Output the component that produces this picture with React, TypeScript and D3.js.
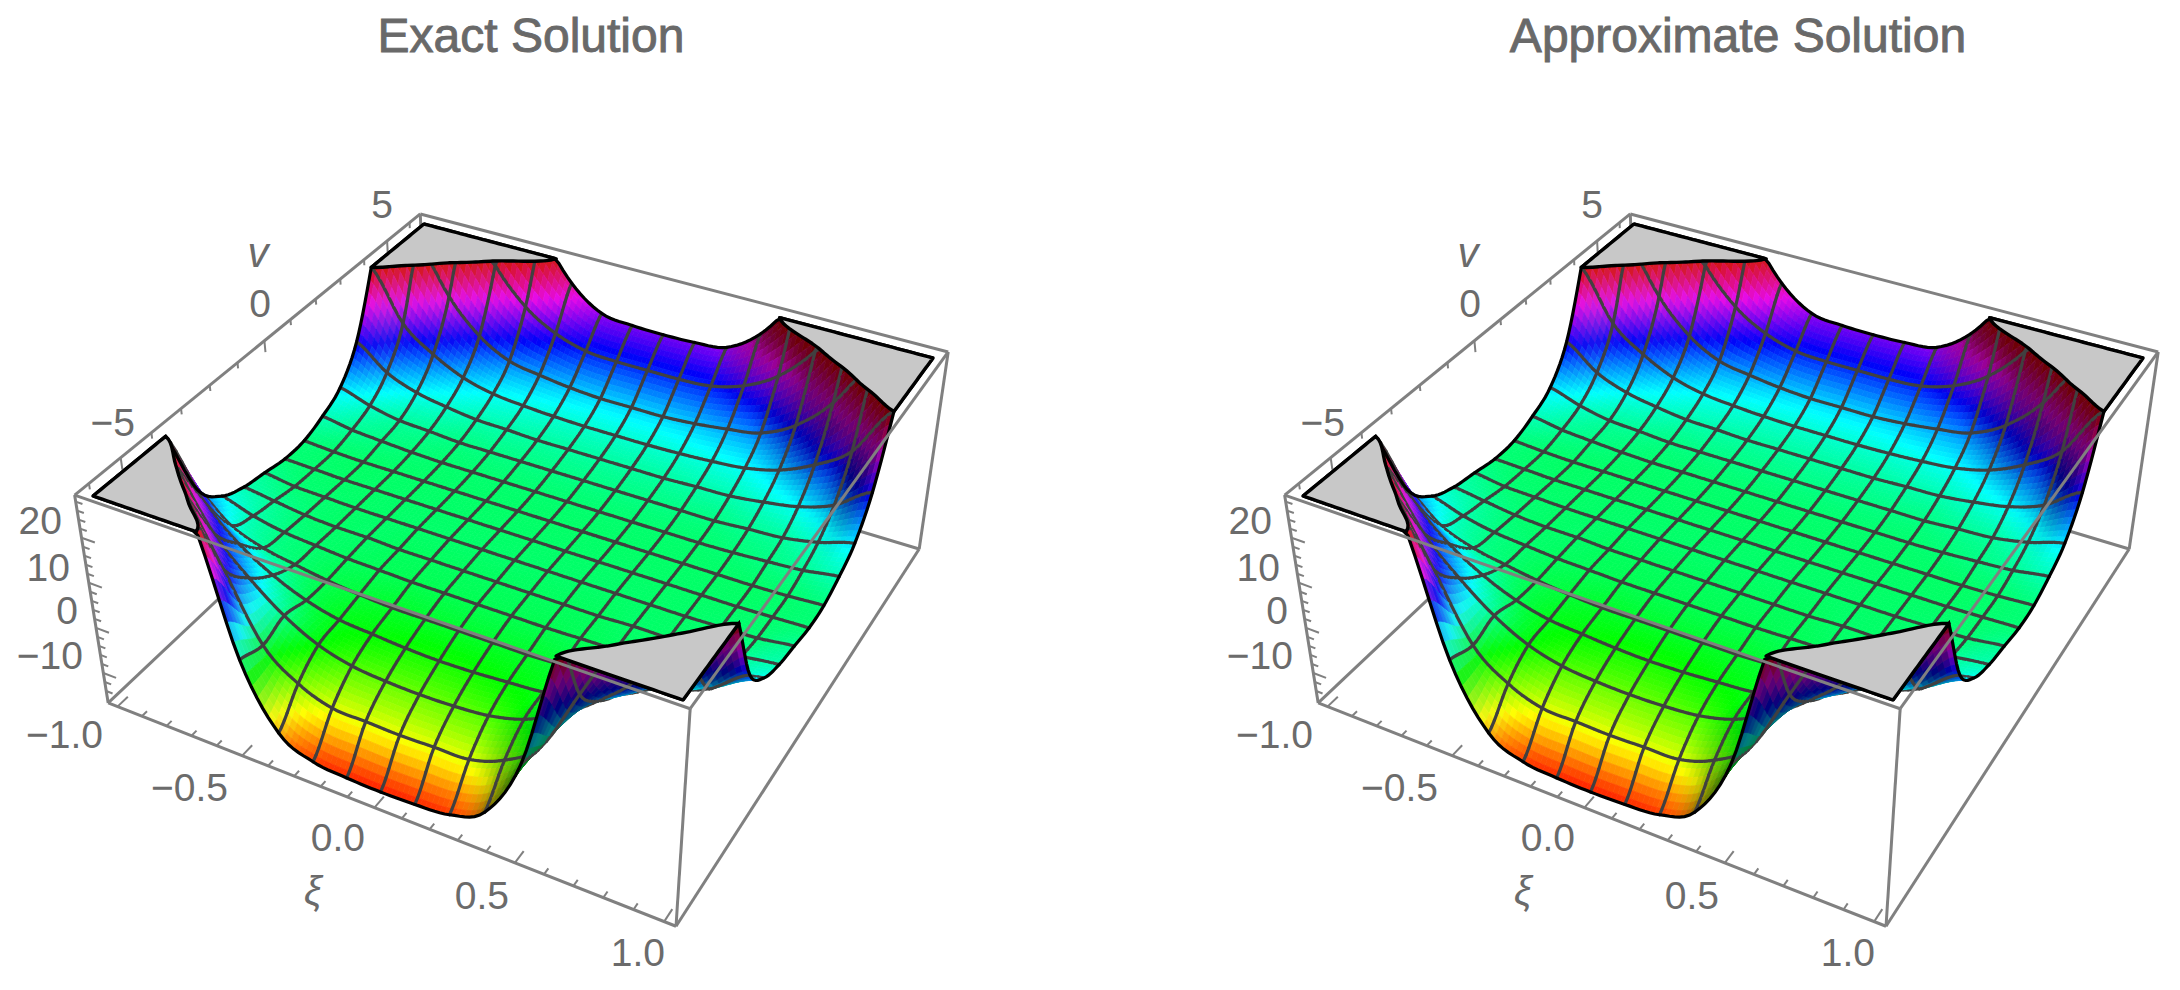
import { useEffect, useRef } from "react";
import * as d3 from "d3";

// v(xi, nu): one row per mesh line of nu (front to back),
// one value per mesh line of xi (left to right). Values past 28.6 sit above the
// plot range and only steer where the clipping line runs.
const zRows: number[][] = [
  [75.2, 60.6, 45.9, 31.3, 2.8, -10.5, -14.0, -14.7, -14.9, -14.7, -14.0, -10.5, 2.8, 31.3, 45.9, 60.6, 75.2],
  [59.7, 45.0, 30.4, 15.3, 1.1, -4.7, -7.4, -7.6, -7.8, -7.6, -7.4, -4.7, 1.1, 15.3, 30.4, 45.0, 59.7],
  [44.1, 29.5, 16.2, 8.6, 2.8, -1.1, -3.1, -3.8, -4.0, -3.8, -3.1, -1.1, 2.8, 8.6, 16.2, 29.5, 44.1],
  [28.6, 16.2, 9.1, 4.6, 1.5, -0.3, -0.9, -1.4, -1.6, -1.4, -0.9, -0.3, 1.5, 4.6, 9.1, 16.2, 28.6],
  [12.2, 6.4, 3.7, 2.4, 1.3, 0.6, 0.2, 0.2, 0.2, 0.2, 0.2, 0.6, 1.3, 2.4, 3.7, 6.4, 12.2],
  [6.4, 4.2, 2.8, 2.2, 1.7, 1.5, 1.3, 1.3, 1.3, 1.3, 1.3, 1.5, 1.7, 2.2, 2.8, 4.2, 6.4],
  [4.2, 3.3, 2.4, 2.0, 2.0, 1.7, 1.7, 1.7, 1.7, 1.7, 1.7, 1.7, 2.0, 2.0, 2.4, 3.3, 4.2],
  [3.3, 2.4, 2.2, 2.0, 2.0, 2.0, 2.0, 2.0, 2.0, 2.0, 2.0, 2.0, 2.0, 2.0, 2.2, 2.4, 3.3],
  [2.4, 2.2, 2.0, 2.0, 2.0, 2.0, 2.0, 2.0, 2.0, 2.0, 2.0, 2.0, 2.0, 2.0, 2.0, 2.2, 2.4],
  [2.6, 2.2, 2.0, 2.0, 2.0, 2.0, 2.0, 2.0, 2.0, 2.0, 2.0, 2.0, 2.0, 2.0, 2.0, 2.2, 2.6],
  [4.4, 3.3, 2.8, 2.4, 2.2, 2.2, 2.2, 2.2, 2.2, 2.2, 2.2, 2.2, 2.2, 2.4, 2.8, 3.3, 4.4],
  [7.3, 5.1, 3.7, 3.3, 2.8, 2.8, 2.8, 2.8, 2.8, 2.8, 2.8, 2.8, 2.8, 3.3, 3.7, 5.1, 7.3],
  [14.4, 9.1, 6.4, 5.1, 4.2, 4.0, 3.7, 3.7, 3.7, 3.7, 3.7, 4.0, 4.2, 5.1, 6.4, 9.1, 14.4],
  [28.6, 17.1, 11.7, 8.2, 6.4, 5.7, 5.3, 5.1, 5.1, 5.1, 5.3, 5.7, 6.4, 8.2, 11.7, 17.1, 28.6],
  [46.4, 34.4, 21.9, 14.4, 10.4, 9.1, 8.2, 7.7, 7.7, 7.7, 8.2, 9.1, 10.4, 14.4, 21.9, 34.4, 46.4],
  [64.1, 52.1, 40.1, 27.7, 19.7, 15.3, 13.1, 12.6, 12.6, 12.6, 13.1, 15.3, 19.7, 27.7, 40.1, 52.1, 64.1],
  [81.9, 69.9, 57.9, 45.9, 33.9, 23.7, 18.4, 17.5, 17.3, 17.5, 18.4, 23.7, 33.9, 45.9, 57.9, 69.9, 81.9],
];

const titles = ["Exact Solution", "Approximate Solution"];
const xiMajor = [-1, -0.5, 0, 0.5, 1];
const xiMinor = d3.range(-10, 11).map((d) => d / 10);
const nuMajor = [-5, 0, 5];
const nuMinor = d3.range(-6, 7);
const zMajor = [-10, 0, 10, 20];
const zMinor = d3.range(-14, 30, 2);
const xiLabels = ["−1.0", "−0.5", "0.0", "0.5", "1.0"];
const nuLabels = ["−5", "0", "5"];
const zLabels = ["−10", "0", "10", "20"];

// layout, in page pixels for the left plot
const capCorners = [[93, 496], [683, 700], [933, 358], [424, 224]];
const floorCorners = [[124, 696], [670, 909], [906, 548], [431, 405]];
const xiLabelAt = [[103, 748], [228, 801], [365, 851], [509, 909], [665, 966]];
const nuLabelAt = [[135, 436], [271, 317], [393, 218]];
const zLabelAt = [[83, 669], [78, 624], [70, 581], [62, 534]];
const plotShift = [0, 1210];
const titleX = [531, 1738];

const SUB = 7;
const PAD = 0.0192;
const GREY = "#808080";
const TEXT = "#6b6b6b";
const FONT = "'Liberation Sans', Arial, sans-serif";

const uScale = d3.scaleLinear([-1, 1], [0, 1]);
const wScale = d3.scaleLinear([-6.2, 6.25], [0, 1]);
const tScale = d3.scaleLinear([-15.8, 28.6], [0, 1]);

// unit square to quad (corners in order u0w0, u1w0, u1w1, u0w1)
function quadMap(q: number[][]) {
  const [[x0, y0], [x1, y1], [x2, y2], [x3, y3]] = q;
  const dx1 = x1 - x2, dy1 = y1 - y2, dx2 = x3 - x2, dy2 = y3 - y2;
  const sx = x0 - x1 + x2 - x3, sy = y0 - y1 + y2 - y3;
  const det = dx1 * dy2 - dx2 * dy1;
  const g = (sx * dy2 - dx2 * sy) / det;
  const h = (dx1 * sy - sx * dy1) / det;
  return (u: number, w: number) => {
    const d = g * u + h * w + 1;
    return [
      (x0 + (x1 - x0 + g * x1) * u + (x3 - x0 + h * x3) * w) / d,
      (y0 + (y1 - y0 + g * y1) * u + (y3 - y0 + h * y3) * w) / d,
    ];
  };
}

const capMap = quadMap(capCorners);
const floorMap = quadMap(floorCorners);

function project(u: number, w: number, t: number) {
  const a = floorMap(u, w), b = capMap(u, w);
  return [a[0] + (b[0] - a[0]) * t, a[1] + (b[1] - a[1]) * t];
}

function catmull(p0: number, p1: number, p2: number, p3: number, s: number) {
  return 0.5 * (2 * p1 + (p2 - p0) * s + (2 * p0 - 5 * p1 + 4 * p2 - p3) * s * s + (3 * p1 - p0 - 3 * p2 + p3) * s * s * s);
}

function sampleZ(fi: number, fj: number) {
  const last = zRows.length - 1;
  const c = (k: number) => Math.max(0, Math.min(last, k));
  const i = Math.min(last - 1, Math.floor(fi)), j = Math.min(last - 1, Math.floor(fj));
  const along = (r: number) =>
    catmull(zRows[c(r)][c(i - 1)], zRows[c(r)][c(i)], zRows[c(r)][c(i + 1)], zRows[c(r)][c(i + 2)], fi - i);
  return catmull(along(j - 1), along(j), along(j + 1), along(j + 2), fj - j);
}

const line = d3.line();
const seg = (a: number[], b: number[]) => line([a, b] as [number, number][])!;

function cellColor(t: number, slope: number) {
  const c = d3.rgb(d3.hsl(Math.max(0, Math.min(0.999, t)) * 360, 1, 0.5));
  // the walls facing away from the light go dark, the ones facing it wash out a bit
  const dark = (1 - 0.5 * Math.min(1, Math.max(0, slope - 0.6) / 2.5)) * (1 - 0.14 * Math.max(0, t - 0.6) / 0.4);
  const wash = 0.14 * Math.min(1, Math.max(0, -slope - 1) / 3);
  const mix = (v: number) => Math.round(v * dark * (1 - wash) + 170 * wash);
  return `rgb(${mix(c.r)},${mix(c.g)},${mix(c.b)})`;
}

function buildSurface() {
  const n = (zRows.length - 1) * SUB + 1;
  const tf: number[][] = d3.range(n).map((j) =>
    d3.range(n).map((i) => tScale(sampleZ(i / SUB, j / SUB))),
  );
  const pt = (i: number, j: number) =>
    project(i / (n - 1), j / (n - 1), Math.min(1, tf[j][i]));

  const cells: { depth: number; d: string; fill: string; mesh: string[] }[] = [];
  for (let j = 0; j < n - 1; j++) {
    for (let i = 0; i < n - 1; i++) {
      const ts = [tf[j][i], tf[j][i + 1], tf[j + 1][i + 1], tf[j + 1][i]];
      if (d3.min(ts)! > 1) continue;
      const slope = ((tf[j][i + 1] - tf[j][i] + tf[j + 1][i + 1] - tf[j + 1][i]) / 2) * (n - 1);
      const corners = [pt(i, j), pt(i + 1, j), pt(i + 1, j + 1), pt(i, j + 1)];
      const mesh: string[] = [];
      if ((j + 1) % SUB === 0 && j + 1 < n - 1 && Math.min(ts[2], ts[3]) <= 1) mesh.push(seg(corners[3], corners[2]));
      if (i % SUB === 0 && i > 0 && Math.min(ts[0], ts[3]) <= 1) mesh.push(seg(corners[0], corners[3]));
      cells.push({
        depth: (j - i) / (n - 1),
        d: "M" + corners.map((c) => c.map((v) => v.toFixed(1)).join(",")).join("L") + "Z",
        fill: cellColor(d3.mean(ts)!, slope),
        mesh,
      });
    }
  }
  cells.sort((a, b) => b.depth - a.depth);

  const idx = d3.range(n);
  const edges = [
    idx.map((i) => pt(i, 0)),
    idx.map((i) => pt(i, n - 1)),
    idx.map((j) => pt(0, j)),
    idx.map((j) => pt(n - 1, j)),
  ].map((e) => line(e as [number, number][])!);

  const unit = (p: number) => Math.max(0, Math.min(1, (p - 0.5) / (n - 1)));
  const contour = d3.contours().size([n, n]).thresholds([1])(tf.flat());
  const cap = contour[0].coordinates
    .map((poly) => "M" + poly[0].map(([x, y]) => capMap(unit(x), unit(y)).join(",")).join("L") + "Z")
    .join("");

  return { cells, edges, cap };
}

function drawPlot(
  svg: d3.Selection<SVGSVGElement, unknown, null, undefined>,
  index: number,
  surface: ReturnType<typeof buildSurface>,
) {
  svg.append("text")
    .attr("x", titleX[index])
    .attr("y", 52)
    .attr("text-anchor", "middle")
    .attr("font-family", FONT)
    .attr("font-size", 48)
    .attr("fill", "#696969")
    .attr("stroke", "#696969")
    .attr("stroke-width", 0.9)
    .text(titles[index]);

  const g = svg.append("g").attr("transform", `translate(${plotShift[index]},0)`);

  const lo = -PAD, hi = 1 + PAD;
  const L = project(lo, lo, hi), F = project(hi, lo, hi), R = project(hi, hi, hi), B = project(lo, hi, hi);
  const bL = project(lo, lo, lo), bF = project(hi, lo, lo), bR = project(hi, hi, lo), bB = project(lo, hi, lo);
  const boxLines = (parent: d3.Selection<SVGGElement, unknown, null, undefined>, pairs: number[][][]) =>
    parent.selectAll("path.box")
      .data(pairs)
      .join("path")
      .attr("class", "box")
      .attr("d", (d) => seg(d[0], d[1]))
      .attr("stroke", GREY)
      .attr("stroke-width", 3)
      .attr("fill", "none");

  // back of the box goes under the surface
  const back = g.append("g");
  boxLines(back, [[L, B], [B, R], [bL, bB], [bB, bR], [bB, B]]);

  const tick = (from: number[], to: number[], width = 2) =>
    back.append("path").attr("d", seg(from, to)).attr("stroke", GREY).attr("stroke-width", width).attr("fill", "none");

  nuMinor.forEach((v) => {
    const len = nuMajor.includes(v) ? 0.06 : 0.03;
    tick(project(lo, wScale(v), hi), project(lo, wScale(v), hi - len));
  });

  const mesh = g.append("g");
  surface.cells.forEach((c) => {
    mesh.append("path")
      .attr("d", c.d)
      .attr("fill", c.fill)
      .attr("stroke", c.fill)
      .attr("stroke-width", 0.7);
    c.mesh.forEach((d) => {
      mesh.append("path")
        .attr("d", d)
        .attr("fill", "none")
        .attr("stroke", "#404040")
        .attr("stroke-width", 3.2)
        .attr("stroke-linecap", "round");
    });
  });

  g.append("g")
    .selectAll("path")
    .data(surface.edges)
    .join("path")
    .attr("d", (d) => d)
    .attr("fill", "none")
    .attr("stroke", "#000")
    .attr("stroke-width", 3.2);

  g.append("path")
    .attr("d", surface.cap)
    .attr("fill", "#c8c8c8")
    .attr("stroke", "#000")
    .attr("stroke-width", 3.4)
    .attr("stroke-linejoin", "round");

  const front = g.append("g");
  boxLines(front, [[L, F], [F, R], [L, bL], [F, bF], [R, bR], [bL, bF], [bF, bR]]);

  const frontTick = (from: number[], to: number[]) =>
    front.append("path").attr("d", seg(from, to)).attr("stroke", GREY).attr("stroke-width", 2).attr("fill", "none");

  xiMinor.forEach((x) => {
    const len = xiMajor.includes(x) ? 0.028 : 0.014;
    frontTick(project(uScale(x), lo, lo), project(uScale(x), lo + len, lo));
  });
  zMinor.forEach((z) => {
    const len = zMajor.includes(z) ? 0.026 : 0.013;
    frontTick(project(lo, lo, tScale(z)), project(lo + len, lo, tScale(z)));
  });

  const label = (x: number, y: number, text: string, anchor = "end", size = 39, style = "normal") =>
    g.append("text")
      .attr("x", x)
      .attr("y", y)
      .attr("text-anchor", anchor)
      .attr("font-family", FONT)
      .attr("font-size", size)
      .attr("font-style", style)
      .attr("fill", TEXT)
      .text(text);

  xiLabels.forEach((t, i) => label(xiLabelAt[i][0], xiLabelAt[i][1], t));
  nuLabels.forEach((t, i) => label(nuLabelAt[i][0], nuLabelAt[i][1], t));
  zLabels.forEach((t, i) => label(zLabelAt[i][0], zLabelAt[i][1], t));
  label(258, 267, "v", "middle", 42, "italic");
  label(313, 905, "ξ", "middle", 40, "italic");
}

export default function App() {
  const svgRef = useRef<SVGSVGElement>(null);

  useEffect(() => {
    if (!svgRef.current) return;
    const svg = d3.select(svgRef.current);
    svg.selectAll("*").remove();
    const surface = buildSurface();
    titles.forEach((_, i) => drawPlot(svg, i, surface));
  }, []);

  return (
    <svg
      ref={svgRef}
      width={2180}
      height={990}
      viewBox="0 0 2180 990"
      style={{ position: "absolute", left: 0, top: 0, background: "#fff" }}
    />
  );
}
